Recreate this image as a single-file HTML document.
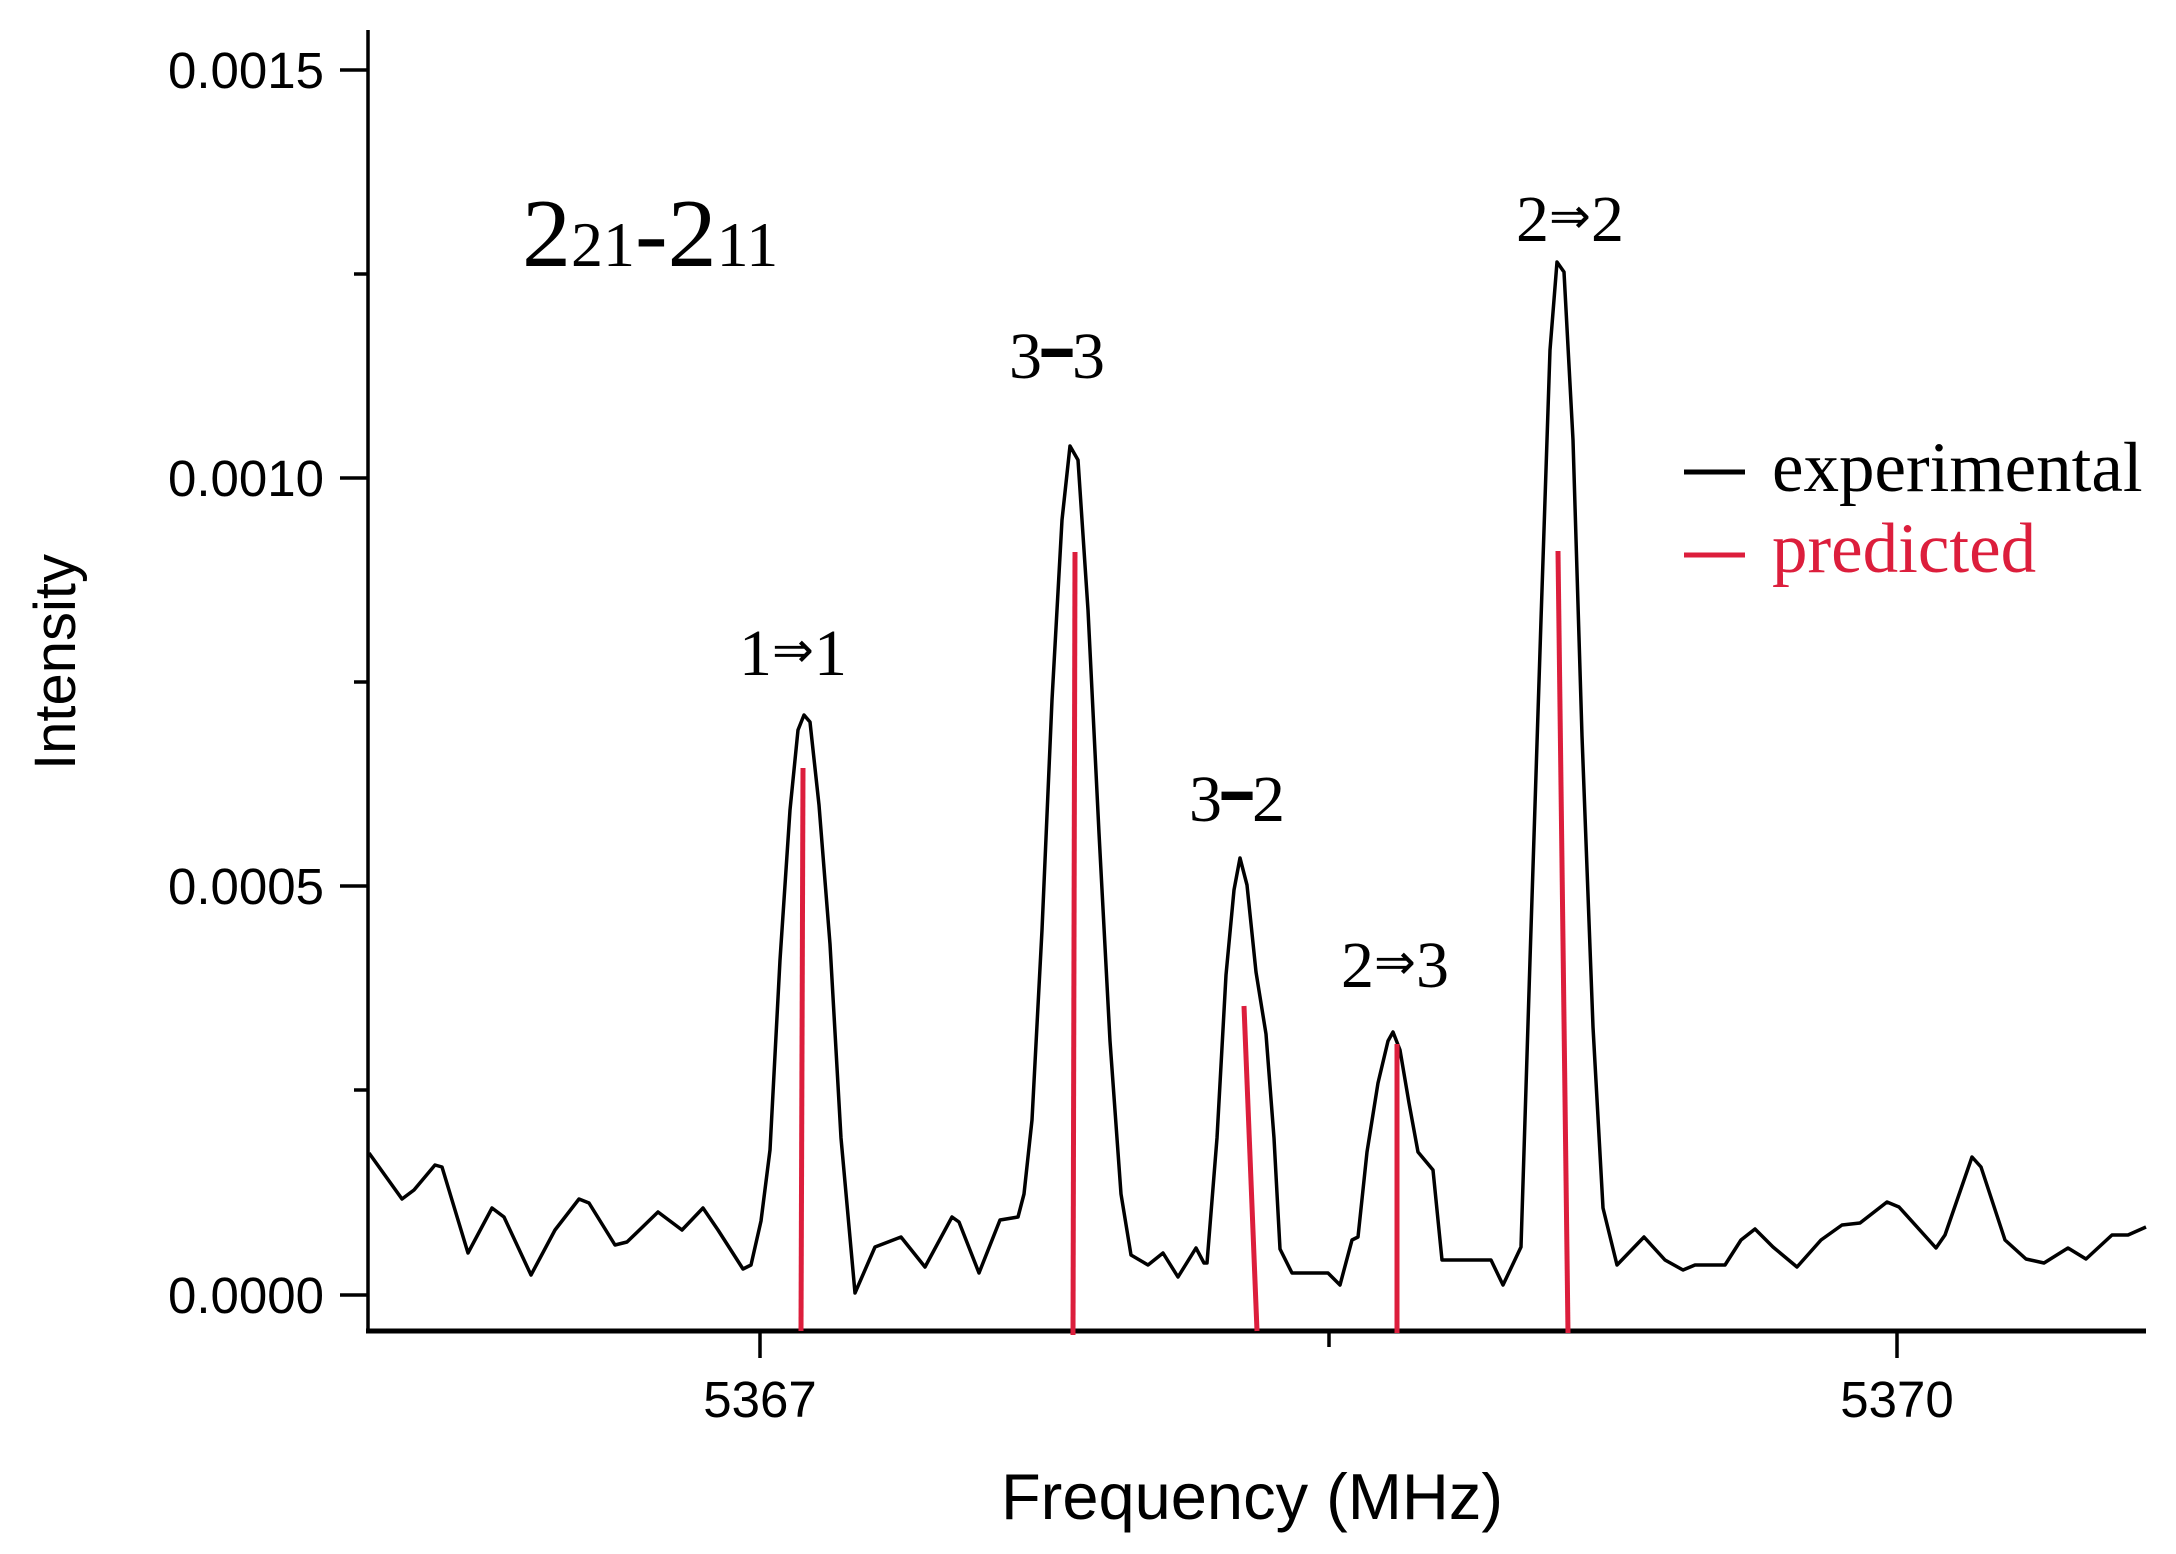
<!DOCTYPE html>
<html><head><meta charset="utf-8"><style>
html,body{margin:0;padding:0;background:#fff;}
svg{display:block;}
</style></head><body>
<svg width="2176" height="1554" viewBox="0 0 2176 1554" xmlns="http://www.w3.org/2000/svg">
<rect width="2176" height="1554" fill="#fff"/>
<line x1="368" y1="30" x2="368" y2="1333" stroke="#000" stroke-width="3.5"/>
<line x1="366" y1="1331" x2="2146" y2="1331" stroke="#000" stroke-width="5"/>
<g stroke="#000" stroke-width="3.5">
<line x1="340" y1="70" x2="368" y2="70"/>
<line x1="354" y1="274" x2="368" y2="274"/>
<line x1="340" y1="478" x2="368" y2="478"/>
<line x1="354" y1="682" x2="368" y2="682"/>
<line x1="340" y1="886" x2="368" y2="886"/>
<line x1="354" y1="1090" x2="368" y2="1090"/>
<line x1="340" y1="1295" x2="368" y2="1295"/>
<line x1="760" y1="1331" x2="760" y2="1358"/>
<line x1="1329" y1="1331" x2="1329" y2="1347"/>
<line x1="1897" y1="1331" x2="1897" y2="1358"/>
</g>
<g font-family="Liberation Sans, sans-serif" font-size="51" text-anchor="end" fill="#000">
<text x="324" y="88">0.0015</text>
<text x="324" y="496">0.0010</text>
<text x="324" y="904">0.0005</text>
<text x="324" y="1313">0.0000</text>
</g>
<g font-family="Liberation Sans, sans-serif" font-size="51" text-anchor="middle" fill="#000">
<text x="760" y="1417">5367</text>
<text x="1897" y="1417">5370</text>
<text x="1252" y="1519" font-size="65">Frequency (MHz)</text>
<text transform="translate(75,662) rotate(-90)" font-size="58">Intensity</text>
</g>
<polyline fill="none" stroke="#000" stroke-width="3.5" stroke-linejoin="round" points="369,1153 402,1199 414,1190 435,1165 442,1167 468,1253 492,1208 504,1217 531,1275 555,1230 579,1199 589,1203 615,1245 627,1242 658,1212 682,1230 703,1208 718,1230 743,1269 751,1265 761,1221 770,1150 780,960 790,810 798,730 804,715 810,722 819,805 830,944 841,1138 855,1293 875,1247 901,1237 925,1267 952,1217 959,1222 979,1273 1000,1220 1018,1217 1024,1194 1032,1120 1042,930 1052,700 1062,520 1070,446 1078,460 1088,610 1099,833 1110,1041 1121,1194 1131,1255 1148,1265 1163,1253 1178,1277 1196,1248 1204,1263 1207,1263 1217,1138 1226,975 1234,890 1240,858 1247,885 1256,972 1266,1034 1274,1138 1280,1249 1292,1273 1328,1273 1340,1285 1352,1240 1358,1237 1367,1152 1378,1083 1388,1041 1393,1032 1400,1050 1409,1103 1418,1152 1433,1170 1442,1260 1491,1260 1503,1285 1521,1247 1530,960 1541,620 1550,350 1557,262 1564,272 1573,440 1582,736 1593,1027 1603,1208 1617,1265 1644,1237 1665,1260 1683,1270 1695,1265 1725,1265 1741,1240 1755,1229 1773,1247 1797,1267 1821,1240 1842,1225 1860,1223 1887,1202 1899,1207 1936,1248 1945,1235 1972,1157 1981,1167 2005,1240 2026,1259 2044,1263 2068,1248 2086,1259 2112,1235 2128,1235 2146,1227"/>
<g stroke="#dc1e3c" stroke-width="5">
<line x1="803" y1="768" x2="801" y2="1331"/>
<line x1="1075" y1="552" x2="1073" y2="1335"/>
<line x1="1244" y1="1006" x2="1257" y2="1331"/>
<line x1="1397" y1="1044" x2="1397" y2="1333"/>
<line x1="1558" y1="551" x2="1568" y2="1333"/>
</g>
<g font-family="Liberation Serif, serif" fill="#000">
<text x="522" y="266" font-size="98">2<tspan font-size="64">21</tspan>-2<tspan font-size="64">11</tspan></text>
<g font-size="66" text-anchor="middle">
<text x="793" y="675">1<tspan font-size="50" dy="-8">⇒</tspan><tspan dy="8">1</tspan></text>
<text x="1057" y="378">3<tspan font-size="50" dy="-8">━</tspan><tspan dy="8">3</tspan></text>
<text x="1237" y="821">3<tspan font-size="50" dy="-8">━</tspan><tspan dy="8">2</tspan></text>
<text x="1395" y="987">2<tspan font-size="50" dy="-8">⇒</tspan><tspan dy="8">3</tspan></text>
<text x="1570" y="241">2<tspan font-size="50" dy="-8">⇒</tspan><tspan dy="8">2</tspan></text>
</g>
<text x="1772" y="491" font-size="71">experimental</text>
<text x="1772" y="572" font-size="71" fill="#dc1e3c">predicted</text>
</g>
<line x1="1684" y1="472" x2="1745" y2="472" stroke="#000" stroke-width="5"/>
<line x1="1684" y1="555" x2="1745" y2="555" stroke="#dc1e3c" stroke-width="5"/>
</svg>
</body></html>
